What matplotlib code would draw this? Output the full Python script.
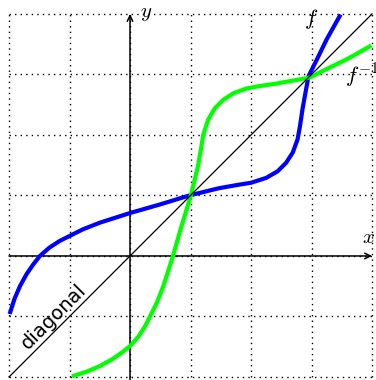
import numpy as np
import matplotlib
matplotlib.use("Agg")
import matplotlib.pyplot as plt

plt.rcParams['mathtext.fontset'] = 'cm'

# points (x, y)
f_x = [-1.99, -1.91, -1.82, -1.71, -1.60, -1.49, -1.33, -1.16, -1.0, -0.78, -0.5, 0.0,
       0.49, 0.98, 1.47, 1.81, 2.0, 2.25, 2.44, 2.58, 2.69, 2.77, 2.81, 2.85, 2.90,
       2.95, 3.09, 3.25, 3.48]
f_y = [-0.96, -0.71, -0.50, -0.30, -0.14, 0.0, 0.14, 0.25, 0.33, 0.44, 0.55, 0.71,
       0.85, 1.0, 1.12, 1.18, 1.21, 1.29, 1.40, 1.54, 1.71, 1.93, 2.15, 2.42, 2.70,
       2.97, 3.25, 3.58, 3.99]

# inverse function: same points with x and y swapped
finv_x = f_y
finv_y = f_x

grid_ticks = [-2, -1, 0, 1, 2, 3, 4]

fig = plt.figure(figsize=(3.76, 3.80), dpi=100)
ax = fig.add_axes([0, 0, 1, 1])
ax.set_xlim(-2.149, 4.066)
ax.set_ylim(-2.05, 4.231)
ax.axis('off')

# dotted grid
for t in grid_ticks:
    ax.plot([t, t], [-2, 4], color='black', lw=1.0, ls=(0, (1, 3)), zorder=1)
    ax.plot([-2, 4], [t, t], color='black', lw=1.0, ls=(0, (1, 3)), zorder=1)

# axes with arrows
ax.annotate('', xy=(4.0, 0), xytext=(-2, 0),
            arrowprops=dict(arrowstyle='->', lw=1.1, color='black', shrinkA=0, shrinkB=0), zorder=2)
ax.annotate('', xy=(0, 4.0), xytext=(0, -2.05),
            arrowprops=dict(arrowstyle='->', lw=1.1, color='black', shrinkA=0, shrinkB=0), zorder=2)
ax.text(0.27, 4.02, '$y$', fontsize=15, ha='center', va='center')
ax.text(3.94, 0.31, '$x$', fontsize=15, ha='center', va='center')

# curves
ax.plot(f_x, f_y, color='#0000ff', lw=3.0, solid_capstyle='butt', solid_joinstyle='round', zorder=3)
ax.plot(finv_x, finv_y, color='#00ff00', lw=3.0, solid_capstyle='butt', solid_joinstyle='round', zorder=4)
ax.plot([-2, 4], [-2, 4], color='black', lw=0.9, zorder=5)

ax.text(3.0, 3.92, '$f$', fontsize=16, ha='center', va='center')
ax.text(3.55, 2.97, '$f^{-1}$', fontsize=16, ha='left', va='center', clip_on=True)
ax.text(-1.15, -1.12, 'diagonal', fontsize=14, rotation=45, rotation_mode='anchor',
        ha='center', va='bottom')

fig.savefig('out.png', dpi=100)
